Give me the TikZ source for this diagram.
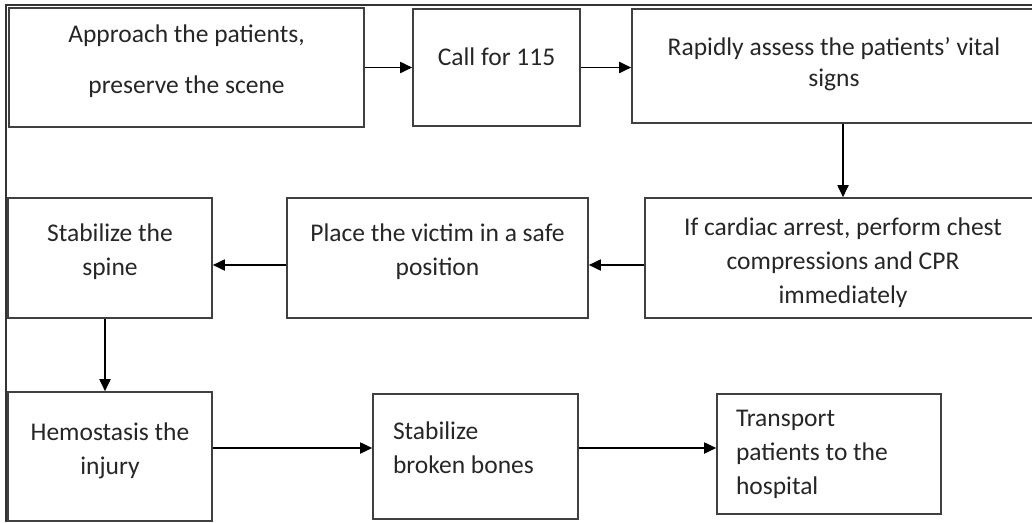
\documentclass[tikz,border=0pt]{standalone}
\usepackage{fontspec}
\setmainfont{Carlito}
\usetikzlibrary{arrows.meta}
\tikzset{
  etape/.style={draw=black!75, line width=1.6pt, text=black!85, inner sep=0pt,
    align=flush center, font=\fontsize{25.5}{34}\selectfont},
  haut/.style={execute at end node={\par\vspace{#1}}},
  fleche/.style={draw=black, line width=1.8pt, -{Triangle[length=12pt,width=11pt]}}
}
\begin{document}
\begin{tikzpicture}[x=1pt,y=-1pt]
    \useasboundingbox (0,0) rectangle (1032,522);

    % Cadre
    \draw[black!80, line width=1.2pt] (6,522) -- (6,5) -- (1032,5);

    % Première ligne
    \node[etape, haut=12pt, text width=355, minimum height=119] (A) at (186.5,67.5)
      {Approach the patients,\\[17pt]preserve the scene};
    \node[etape, haut=22pt, text width=167, minimum height=117] (B) at (496.5,67.5)
      {Call for 115};
    \node[etape, haut=4pt, text width=404, minimum height=114] (C) at (834,66)
      {Rapidly assess the patients’ vital\\[-3pt]signs};

    % Deuxième ligne
    \node[etape, haut=-10pt, text width=396, minimum height=120] (D) at (843,258)
      {If cardiac arrest, perform chest\\compressions and CPR\\immediately};
    \node[etape, haut=12pt, text width=301, minimum height=120] (E) at (437.5,258)
      {Place the victim in a safe\\position};
    \node[etape, haut=12pt, text width=204, minimum height=120] (F) at (110,258)
      {Stabilize the\\spine};

    % Troisième ligne
    \node[etape, haut=12pt, text width=204, minimum height=129] (G) at (110,456.5)
      {Hemostasis the\\injury};
    \node[etape, haut=18pt, align=flush left, text width=165, inner xsep=20, minimum height=125] (H) at (475.5,456.5)
      {Stabilize\\broken bones};
    \node[etape, align=flush left, text width=186, inner xsep=19, minimum height=120] (I) at (829,454)
      {Transport\\patients to the\\hospital};

    % Flèches
    \draw[fleche] (A) -- (B);
    \draw[fleche] (B.east) -- (B.east -| C.west);
    \draw[fleche] (C.south -| D.north) -- (D.north);
    \draw[fleche] ([yshift=-7pt]D.west) -- ([yshift=-7pt]E.east);
    \draw[fleche] ([yshift=-7pt]E.west) -- ([yshift=-7pt]F.east);
    \draw[fleche] ([xshift=-5pt]F.south) -- ([xshift=-5pt]G.north);
    \draw[fleche] ([yshift=8.5pt]G.east) -- ([yshift=8.5pt]H.west);
    \draw[fleche] ([yshift=8.5pt]H.east) -- ([yshift=8.5pt]H.east -| I.west);
\end{tikzpicture}
\end{document}
